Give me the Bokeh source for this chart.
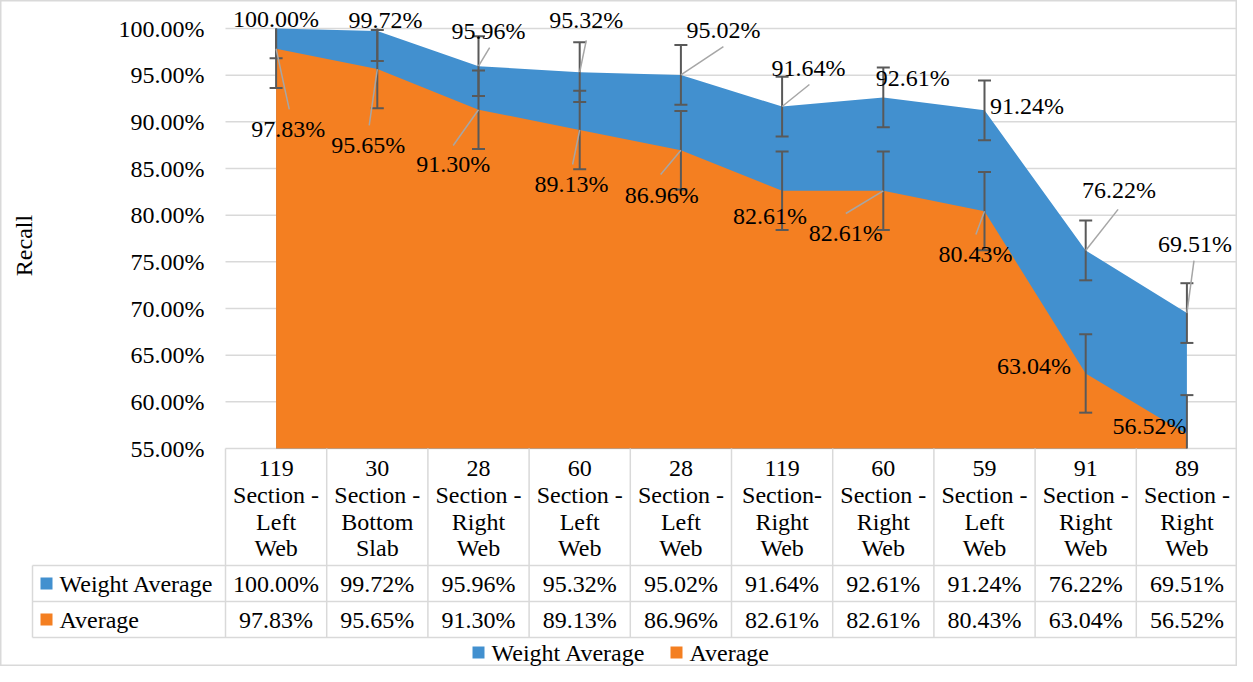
import math
from bokeh.plotting import figure
from bokeh.models import Range1d, ColumnDataSource
from bokeh.core.properties import value
from bokeh.embed import file_html
from bokeh.resources import INLINE

# ---------------- data ----------------
categories = [
    "119\nSection -\nLeft\nWeb",
    "30\nSection -\nBottom\nSlab",
    "28\nSection -\nRight\nWeb",
    "60\nSection -\nLeft\nWeb",
    "28\nSection -\nLeft\nWeb",
    "119\nSection-\nRight\nWeb",
    "60\nSection -\nRight\nWeb",
    "59\nSection -\nLeft\nWeb",
    "91\nSection -\nRight\nWeb",
    "89\nSection -\nRight\nWeb",
]
weight_average = [100.00, 99.72, 95.96, 95.32, 95.02, 91.64, 92.61, 91.24, 76.22, 69.51]
average = [97.83, 95.65, 91.30, 89.13, 86.96, 82.61, 82.61, 80.43, 63.04, 56.52]
weight_average_err = [3.2, 3.2, 3.2, 3.2, 3.2, 3.2, 3.2, 3.2, 3.2, 3.2]
average_err = [4.2, 4.2, 4.2, 4.2, 4.2, 4.2, 4.2, 4.2, 4.2, 4.2]
series_names = ["Weight Average", "Average"]
y_ticks = [55, 60, 65, 70, 75, 80, 85, 90, 95, 100]
y_tick_labels = ["55.00%", "60.00%", "65.00%", "70.00%", "75.00%",
                 "80.00%", "85.00%", "90.00%", "95.00%", "100.00%"]
y_title = "Recall"

# ---------------- layout (pixels / offsets) ----------------
BLUE = "#4290CF"
ORANGE = "#F47F21"
GRID = "#D9D9D9"
ERR = "#595959"
LEAD = "#A6A6A6"
FONT = value("Liberation Serif")
FS = "24px"

FIG_W, FIG_H = 1237, 666
PLOT_L, PLOT_R = 225, 1237
PLOT_T, PLOT_B = 28, 448
Y0, Y1 = 55.0, 100.0
n = len(categories)
S = (PLOT_R - PLOT_L) / n
XL = -0.5 - PLOT_L / S
XR = XL + FIG_W / S
K = (PLOT_B - PLOT_T) / (Y1 - Y0)
YT = Y1 + PLOT_T / K
YB = YT - FIG_H / K

HEADER_LINE_Y = [468, 494, 521, 547]
ROW_LINES = [565, 601, 637]
ROW_TEXT_Y = [583, 619]
TBL_LEFT = 32
LEG_Y = 652

# label offsets (category units, percent units)
wa_label_dx = [0.0, 0.08, 0.10, 0.065, 0.42, 0.26, 0.29, 0.42, 0.33, 0.08]
wa_label_dy = [1.02, 1.14, 3.77, 5.54, 4.77, 4.18, 2.14, 0.51, 6.44, 7.35]
wa_leader = [None, None, (0.11, 2.0), (0.065, 3.4), (0.42, 3.05), (0.27, 2.36),
             None, None, (0.32, 4.4), (0.07, 5.63)]
avg_label_dx = [0.12, -0.09, -0.25, -0.08, -0.19, -0.12, -0.37, -0.09, -0.51, -0.37]
avg_label_dy = [-8.65, -8.08, -5.87, -5.74, -4.75, -2.65, -4.47, -4.54, 0.85, 0.94]
avg_leader = [(0.13, -6.5), (-0.08, -6.04), (-0.25, -3.84), (-0.07, -3.7), (-0.2, -2.6),
              None, (-0.37, -2.43), (-0.085, -2.5), None, None]

xs = list(range(n))

p = figure(width=FIG_W, height=FIG_H, x_range=Range1d(XL, XR), y_range=Range1d(YB, YT),
           output_backend="svg", toolbar_location=None, min_border=0,
           x_axis_location=None, y_axis_location=None)
p.extra_x_ranges = {"fx": Range1d(0, FIG_W)}
p.extra_y_ranges = {"fy": Range1d(FIG_H, 0)}
p.background_fill_color = "white"
p.border_fill_color = "white"
p.outline_line_color = GRID
p.outline_line_width = 2
p.grid.visible = False

# gridlines
p.segment(x0=[-0.5] * len(y_ticks), x1=[n - 0.5] * len(y_ticks), y0=y_ticks, y1=y_ticks,
          line_color=GRID, line_width=1.5)

# y tick labels
p.text(x=[PLOT_L - 21] * len(y_ticks), y=y_ticks, text=y_tick_labels, x_range_name="fx",
       text_align="right", text_baseline="middle", text_font=FONT, text_font_size=FS,
       text_color="black")
p.text(x=[23], y=[245], text=[y_title], x_range_name="fx", y_range_name="fy",
       angle=math.pi / 2, text_align="center", text_baseline="middle",
       text_font=FONT, text_font_size=FS, text_color="black")

# areas
p.varea(x=xs, y1=[Y0] * n, y2=weight_average, fill_color=BLUE)
p.varea(x=xs, y1=[Y0] * n, y2=average, fill_color=ORANGE)


# error bars
def error_bars(vals, errs):
    lo = [max(v - e, Y0) for v, e in zip(vals, errs)]
    hi = [min(v + e, Y1) for v, e in zip(vals, errs)]
    p.segment(x0=xs, x1=xs, y0=lo, y1=hi, line_color=ERR, line_width=2)
    cx, cy = [], []
    for i, (v, e) in enumerate(zip(vals, errs)):
        if v - e >= Y0:
            cx.append(i); cy.append(v - e)
        if v + e <= Y1:
            cx.append(i); cy.append(v + e)
    p.scatter(x=cx, y=cy, marker="dash", size=13, line_color=ERR, line_width=2)


error_bars(weight_average, weight_average_err)
error_bars(average, average_err)


# leader lines and labels
def labels(vals, ldx, ldy, leaders):
    x0, y0, x1, y1 = [], [], [], []
    for i, (v, ld) in enumerate(zip(vals, leaders)):
        if ld is None:
            continue
        x0.append(i); y0.append(v); x1.append(i + ld[0]); y1.append(v + ld[1])
    p.segment(x0=x0, y0=y0, x1=x1, y1=y1, line_color=LEAD, line_width=1.5)
    p.text(x=[i + d for i, d in zip(xs, ldx)], y=[v + d for v, d in zip(vals, ldy)],
           text=[f"{v:.2f}%" for v in vals], text_align="center", text_baseline="middle",
           text_font=FONT, text_font_size=FS, text_color="black")


labels(weight_average, wa_label_dx, wa_label_dy, wa_leader)
labels(average, avg_label_dx, avg_label_dy, avg_leader)

# data table
col_x = [PLOT_L + k * S for k in range(n + 1)]
p.segment(x0=col_x, x1=col_x, y0=[PLOT_B] * (n + 1), y1=[ROW_LINES[-1]] * (n + 1),
          x_range_name="fx", y_range_name="fy", line_color=GRID, line_width=1.5)
p.segment(x0=[TBL_LEFT], x1=[TBL_LEFT], y0=[ROW_LINES[0]], y1=[ROW_LINES[-1]],
          x_range_name="fx", y_range_name="fy", line_color=GRID, line_width=1.5)
p.segment(x0=[TBL_LEFT] * 3, x1=[PLOT_R] * 3, y0=ROW_LINES, y1=ROW_LINES,
          x_range_name="fx", y_range_name="fy", line_color=GRID, line_width=1.5)

hx, hy, ht = [], [], []
for i, c in enumerate(categories):
    for j, line in enumerate(c.split("\n")):
        hx.append(i); hy.append(HEADER_LINE_Y[j]); ht.append(line)
p.text(x=hx, y=hy, text=ht, y_range_name="fy", text_align="center", text_baseline="middle",
       text_font=FONT, text_font_size=FS, text_color="black")

for r, vals in enumerate([weight_average, average]):
    p.text(x=xs, y=[ROW_TEXT_Y[r]] * n, text=[f"{v:.2f}%" for v in vals], y_range_name="fy",
           text_align="center", text_baseline="middle", text_font=FONT, text_font_size=FS,
           text_color="black")

p.scatter(x=[TBL_LEFT + 14] * 2, y=ROW_TEXT_Y, marker="square", size=12,
          fill_color=[BLUE, ORANGE], line_color=None, x_range_name="fx", y_range_name="fy")
p.text(x=[TBL_LEFT + 27] * 2, y=ROW_TEXT_Y, text=series_names, x_range_name="fx",
       y_range_name="fy", text_align="left", text_baseline="middle", text_font=FONT,
       text_font_size=FS, text_color="black")

# legend
p.scatter(x=[478, 676], y=[LEG_Y] * 2, marker="square", size=12,
          fill_color=[BLUE, ORANGE], line_color=None, x_range_name="fx", y_range_name="fy")
p.text(x=[491, 689], y=[LEG_Y] * 2, text=series_names, x_range_name="fx",
       y_range_name="fy", text_align="left", text_baseline="middle", text_font=FONT,
       text_font_size=FS, text_color="black")

open("out.html", "w").write(file_html(p, INLINE))
